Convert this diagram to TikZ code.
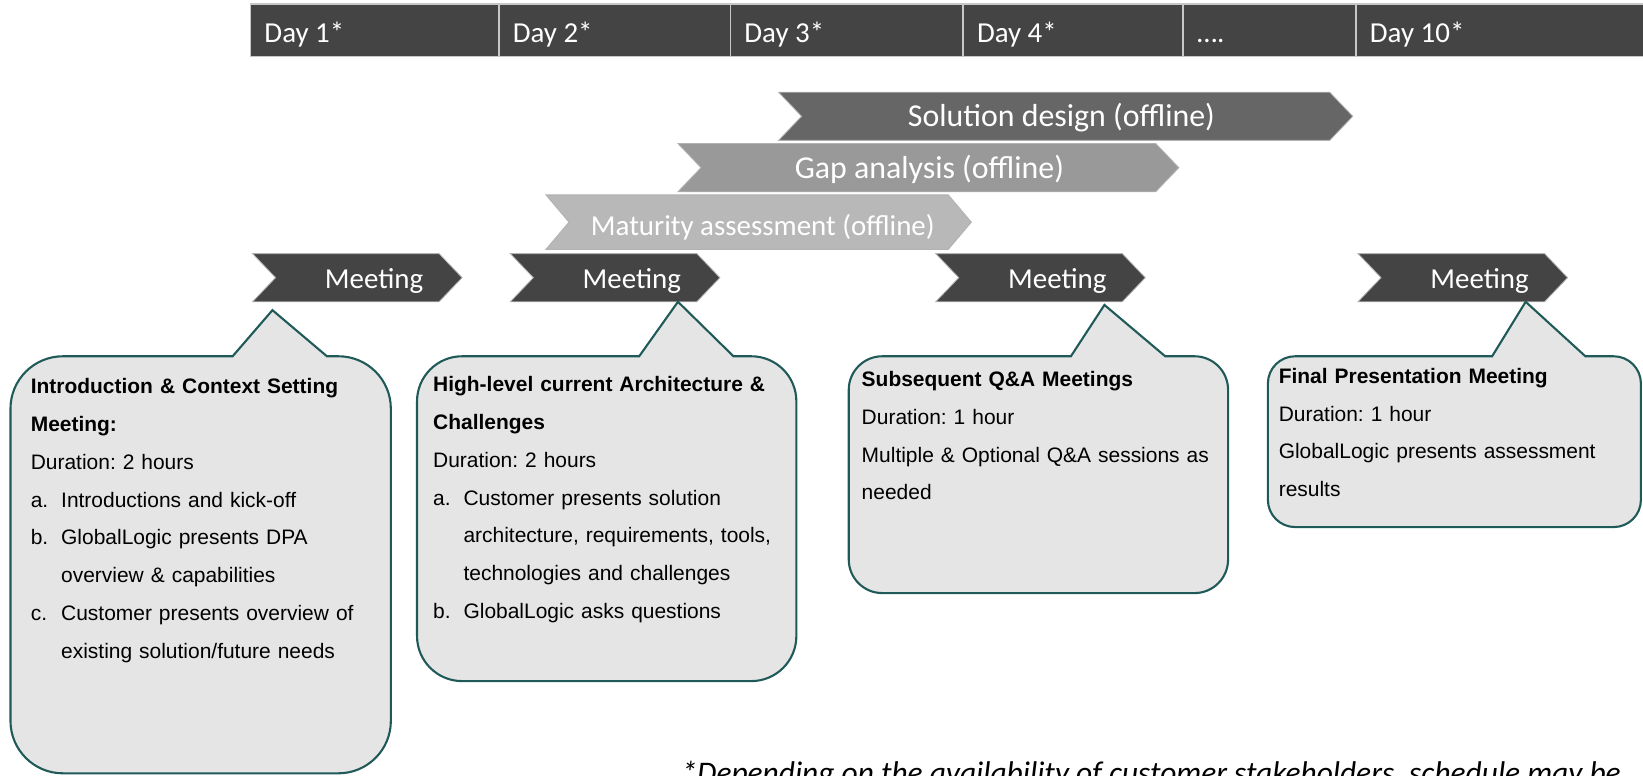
\documentclass[tikz,border=0pt]{standalone}
\usepackage{fontspec}
\setmainfont{Liberation Sans}
\newfontfamily\carlito{Carlito}
\usepackage{tikz}
\usetikzlibrary{positioning}
\frenchspacing

\definecolor{darkbar}{RGB}{68,68,68}
\definecolor{solbar}{RGB}{102,102,102}
\definecolor{gapbar}{RGB}{153,153,153}
\definecolor{matbar}{RGB}{184,184,184}
\definecolor{bubblefill}{RGB}{229,229,229}
\definecolor{bubbleedge}{RGB}{31,90,88}
\newcommand\itemlab[1]{\makebox[14.5pt][l]{#1}}

\begin{document}
\begin{tikzpicture}[x=0.5pt,y=-0.5pt,
    daycell/.style={fill=darkbar,draw=white!78!black,line width=0.7pt},
    daytext/.style={anchor=base west,inner sep=0pt,text=white,font=\carlito\fontsize{13.8}{16}\selectfont},
    chevron/.style={draw=white!70!black,line width=0.4pt},
    bartext/.style={anchor=base,inner sep=0pt,text=white,font=\carlito\fontsize{15.2}{18}\selectfont},
    bubble/.style={fill=bubblefill,draw=bubbleedge,line width=1pt},
    bubbletext/.style={anchor=base west,inner sep=0pt,align=left,text width=175pt,font=\fontsize{10}{18}\selectfont}]
  \useasboundingbox (0,0) rectangle (1568,740);

  % day header
  \foreach \a/\b/\t [count=\i] in {239/476/Day 1*,476/697/Day 2*,697/919/Day 3*,919/1129/Day 4*,1129/1294/….,1294/1580/Day 10*}{
    \draw[daycell] (\a,4) rectangle (\b,54);
    \node[daytext] (day\i) at (\a+13,41) {\t};
  }

  % offline phases
  \foreach \a/\b/\t/\u/\c/\m/\txt [count=\i] in {
      743/1291/88/134/solbar/1013/Solution design (offline),
      647/1125/137/183/gapbar/887/Gap analysis (offline),
      521/927/186/238/matbar/728/Maturity assessment (offline)}{
    \fill[\c,chevron] (\a,\t) -- (\b-22,\t) -- (\b,{(\t+\u)/2}) -- (\b-22,\u) -- (\a,\u) -- (\a+22,{(\t+\u)/2}) -- cycle;
    \node[bartext,font=\carlito\fontsize{\ifnum\i=3 13.8\else 15.2\fi}{18}\selectfont] (phase\i) at (\m,\u-13) {\txt};
  }

  % meetings
  \foreach \a [count=\i] in {241,487,893,1296}{
    \fill[darkbar,chevron] (\a,242) -- (\a+178,242) -- (\a+200,265) -- (\a+178,288) -- (\a,288) -- (\a+22,265) -- cycle;
    \node[bartext,font=\carlito\fontsize{13.8}{16}\selectfont] (meet\i) at (\a+116,275) {Meeting};
  }

  % callouts
  \foreach \l/\t/\r/\b/\rad/\pl/\ax/\ay/\pr in {
      10/340/373/738/50/222/260/296/312,
      398/340/760/650/43/610/647/288/700,
      810/340/1172/566/32/1022/1054/291/1112,
      1210/340/1566/503/26/1424/1456/288/1513}{
    \draw[bubble] (\pr,\t) -- (\r-\rad,\t) arc[start angle=-90,end angle=0,radius=\rad]
      -- (\r,\b-\rad) arc[start angle=0,end angle=90,radius=\rad]
      -- (\l+\rad,\b) arc[start angle=90,end angle=180,radius=\rad]
      -- (\l,\t+\rad) arc[start angle=180,end angle=270,radius=\rad]
      -- (\pl,\t) -- (\ax,\ay) -- cycle;
  }

  \node[bubbletext] (intro) at (29,376) {\textbf{Introduction \& Context Setting}\\
    \textbf{Meeting:}\\
    Duration: 2 hours\\
    \itemlab{a.}Introductions and kick-off\\
    \itemlab{b.}GlobalLogic presents DPA\\
    \hspace*{14.5pt}overview \& capabilities\\
    \itemlab{c.}Customer presents overview of\\
    \hspace*{14.5pt}existing solution/future needs};
  \node[bubbletext] (arch) at (413,374) {\textbf{High-level current Architecture \&}\\
    \textbf{Challenges}\\
    Duration: 2 hours\\
    \itemlab{a.}Customer presents solution\\
    \hspace*{14.5pt}architecture, requirements, tools,\\
    \hspace*{14.5pt}technologies and challenges\\
    \itemlab{b.}GlobalLogic asks questions};
  \node[bubbletext] (qa) at (822,369) {\textbf{Subsequent Q\&A Meetings}\\
    Duration: 1 hour\\
    Multiple \& Optional Q\&A sessions as\\
    needed};
  \node[bubbletext] (final) at (1220,366) {\textbf{Final Presentation Meeting}\\
    Duration: 1 hour\\
    GlobalLogic presents assessment\\
    results};

  \node[anchor=base west,inner sep=0pt,font=\carlito\itshape\fontsize{15}{17}\selectfont] (note) at (650,748)
    {*Depending on the availability of customer stakeholders, schedule may be};
\end{tikzpicture}
\end{document}
